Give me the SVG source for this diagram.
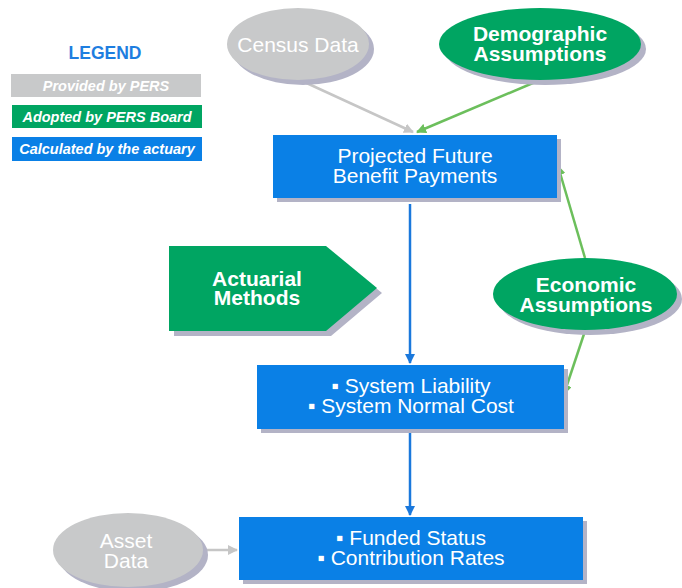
<svg xmlns="http://www.w3.org/2000/svg" width="682" height="588" viewBox="0 0 682 588">
  <defs>
    <style>
      .box { fill: #0a80e6; }
      .green { fill: #00a562; }
      .gray { fill: #c8c9ca; }
      .shadow { fill: #b3b3c6; }
      .t { font-family: "Liberation Sans", Arial, sans-serif; font-size: 21px; fill: #ffffff; text-anchor: middle; }
      .b { font-weight: bold; }
      .leg { font-family: "Liberation Sans", Arial, sans-serif; font-size: 14.5px; font-weight: bold; font-style: italic; fill: #ffffff; text-anchor: middle; }
      .c-blue { stroke: #1a78dc; stroke-width: 2.5; fill: none; }
      .c-green { stroke: #6cbf5c; stroke-width: 2.5; fill: none; }
      .c-gray { stroke: #c6c6c6; stroke-width: 2.5; fill: none; }
    </style>
    <marker id="ah-blue" viewBox="0 0 10 10" refX="9" refY="5" markerWidth="4" markerHeight="4" orient="auto" markerUnits="strokeWidth">
      <path d="M0,0 L10,5 L0,10 z" fill="#1a78dc"/>
    </marker>
    <marker id="ah-green" viewBox="0 0 10 10" refX="9" refY="5" markerWidth="4" markerHeight="4" orient="auto" markerUnits="strokeWidth">
      <path d="M0,0 L10,5 L0,10 z" fill="#6cbf5c"/>
    </marker>
    <marker id="ah-gray" viewBox="0 0 10 10" refX="9" refY="5" markerWidth="4" markerHeight="4" orient="auto" markerUnits="strokeWidth">
      <path d="M0,0 L10,5 L0,10 z" fill="#c6c6c6"/>
    </marker>
  </defs>

  <rect width="682" height="588" fill="#ffffff"/>

  <!-- legend -->
  <g id="legend">
    <text x="105" y="59" font-family="Liberation Sans, Arial, sans-serif" font-size="17.5" font-weight="bold" fill="#1e7ee0" text-anchor="middle">LEGEND</text>
    <rect x="11" y="74" width="190" height="23" class="gray"/>
    <text x="106" y="90.5" class="leg">Provided by PERS</text>
    <rect x="12" y="105" width="190" height="23" class="green"/>
    <text x="107" y="121.5" class="leg">Adopted by PERS Board</text>
    <rect x="12" y="137" width="190" height="24" class="box"/>
    <text x="107" y="154" class="leg">Calculated by the actuary</text>
  </g>

  <!-- connectors -->
  <g id="connectors">
    <line x1="300" y1="80" x2="413" y2="132" class="c-gray" marker-end="url(#ah-gray)"/>
    <line x1="540" y1="80" x2="417" y2="132" class="c-green" marker-end="url(#ah-green)"/>
    <line x1="410" y1="204" x2="410" y2="363" class="c-blue" marker-end="url(#ah-blue)"/>
    <line x1="585" y1="258" x2="558" y2="166" class="c-green" marker-end="url(#ah-green)"/>
    <line x1="585" y1="331" x2="564" y2="394" class="c-green" marker-end="url(#ah-green)"/>
    <line x1="410" y1="432" x2="410" y2="515" class="c-blue" marker-end="url(#ah-blue)"/>
    <line x1="206" y1="550" x2="237" y2="550" class="c-gray" marker-end="url(#ah-gray)"/>
  </g>

  <!-- inputs -->
  <g id="census-data">
    <ellipse cx="303" cy="49" rx="71" ry="36" class="shadow"/>
    <ellipse cx="298" cy="44" rx="71" ry="36" class="gray"/>
    <text x="298" y="51.5" class="t" fill="#f4f4f4">Census Data</text>
  </g>

  <g id="demographic-assumptions">
    <ellipse cx="545" cy="49" rx="101" ry="36" class="shadow"/>
    <ellipse cx="540" cy="44" rx="101" ry="36" class="green"/>
    <text x="540" y="41" class="t b">Demographic</text>
    <text x="540" y="61" class="t b">Assumptions</text>
  </g>

  <g id="economic-assumptions">
    <ellipse cx="590" cy="299" rx="92" ry="36" class="shadow"/>
    <ellipse cx="585" cy="294" rx="92" ry="36" class="green"/>
    <text x="586" y="291.5" class="t b">Economic</text>
    <text x="586" y="311.5" class="t b">Assumptions</text>
  </g>

  <g id="actuarial-methods">
    <polygon points="174,251 331,251 382,293 331,336 174,336" class="shadow"/>
    <polygon points="169,246 326,246 377,288 326,331 169,331" class="green"/>
    <text x="257" y="285.5" class="t b">Actuarial</text>
    <text x="257" y="305" class="t b">Methods</text>
  </g>

  <g id="asset-data">
    <ellipse cx="133" cy="555" rx="75" ry="37" class="shadow"/>
    <ellipse cx="128" cy="550" rx="75" ry="37" class="gray"/>
    <text x="126" y="548" class="t" fill="#f4f4f4">Asset</text>
    <text x="126" y="568" class="t" fill="#f4f4f4">Data</text>
  </g>

  <!-- calculated results -->
  <g id="projected-benefits">
    <rect x="277" y="139" width="284" height="63" class="shadow"/>
    <rect x="273" y="135" width="284" height="63" class="box"/>
    <text x="415" y="163" class="t" font-size="20">Projected Future</text>
    <text x="415" y="183" class="t" font-size="20">Benefit Payments</text>
  </g>

  <g id="system-liability">
    <rect x="261" y="369" width="307" height="64" class="shadow"/>
    <rect x="257" y="365" width="307" height="64" class="box"/>
    <text x="411" y="393" class="t">▪ System Liability</text>
    <text x="411" y="413" class="t">▪ System Normal Cost</text>
  </g>

  <g id="funded-status">
    <rect x="243" y="521" width="344" height="63" class="shadow"/>
    <rect x="239" y="517" width="344" height="63" class="box"/>
    <text x="411" y="545" class="t">▪ Funded Status</text>
    <text x="411" y="565" class="t">▪ Contribution Rates</text>
  </g>
</svg>
